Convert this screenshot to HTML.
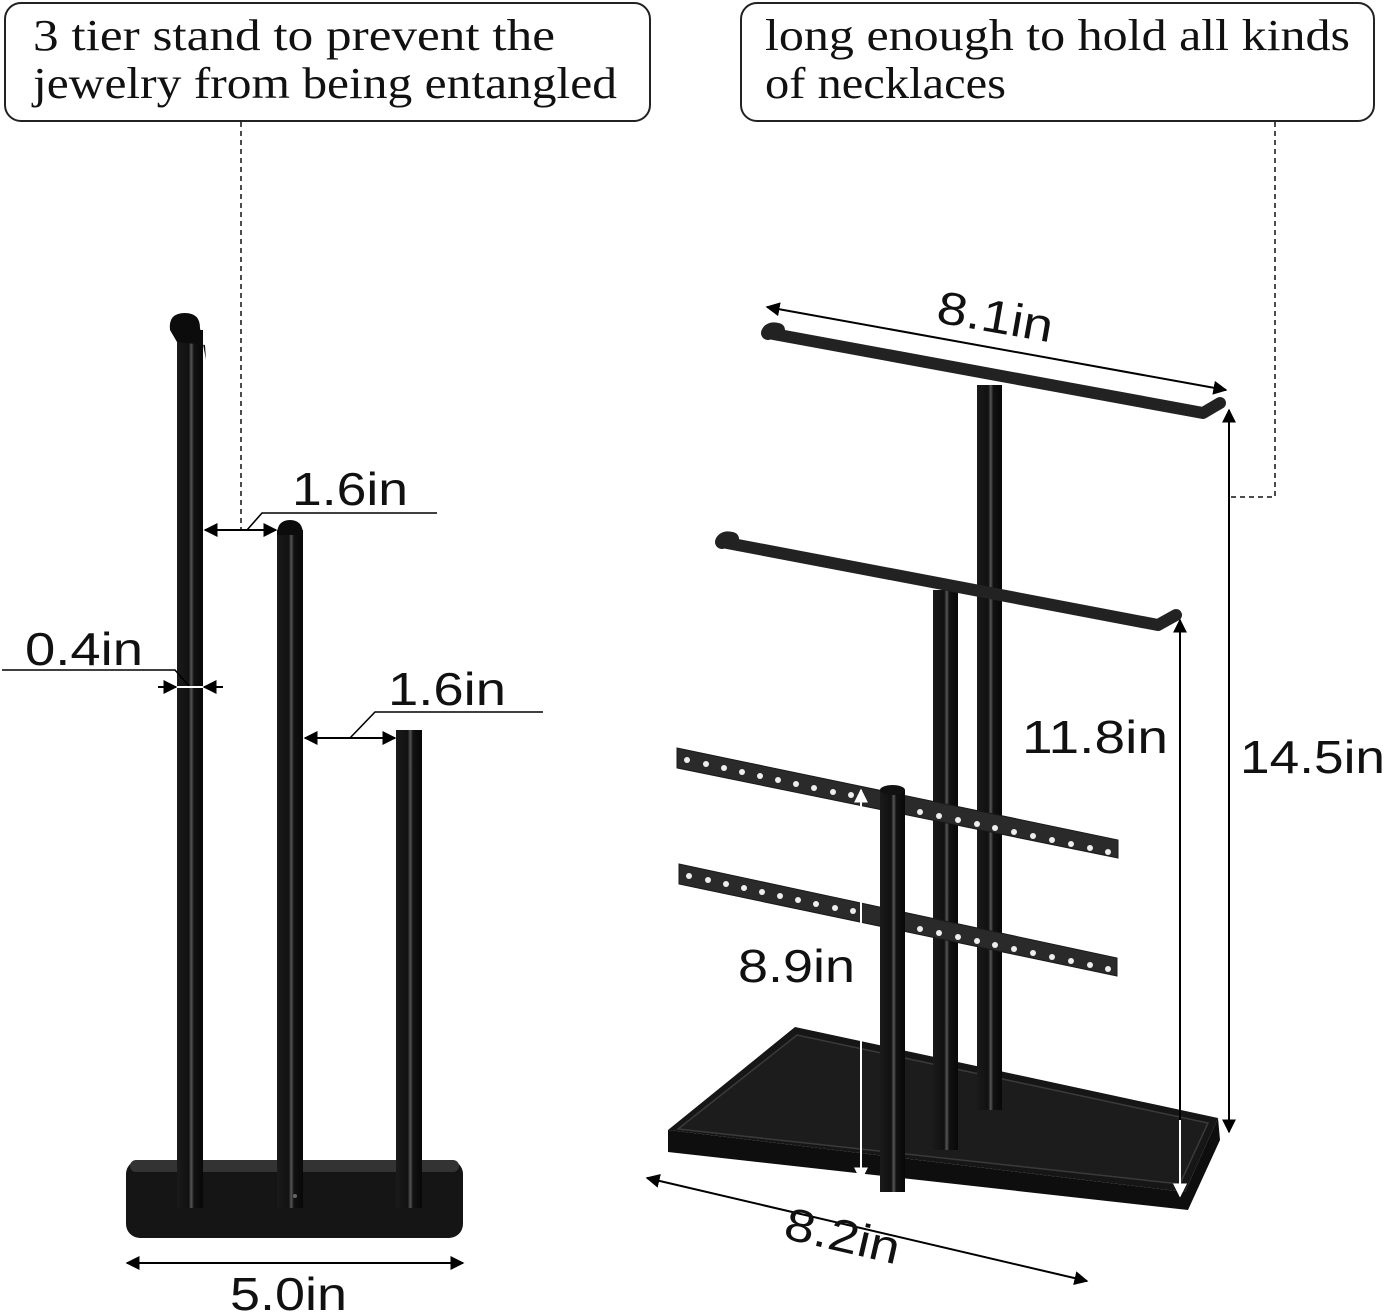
<!DOCTYPE html>
<html><head><meta charset="utf-8"><style>
html,body{margin:0;padding:0;background:#fff}
svg{display:block}
.n{font-family:"Liberation Sans",sans-serif;font-size:46px;fill:#111}
.b{font-family:"Liberation Serif",serif;font-size:44px;fill:#111}
</style></head><body>
<svg width="1389" height="1315" viewBox="0 0 1389 1315" xmlns="http://www.w3.org/2000/svg">
<defs>
<marker id="a" viewBox="0 0 10 10" refX="9" refY="5" markerWidth="7" markerHeight="7" orient="auto-start-reverse"><path d="M0,0L10,5L0,10z" fill="#000"/></marker>
<marker id="w" viewBox="0 0 10 10" refX="9" refY="5" markerWidth="7" markerHeight="7" orient="auto-start-reverse"><path d="M0,0L10,5L0,10z" fill="#fff"/></marker>
<linearGradient id="pg" x1="0" x2="1"><stop offset="0" stop-color="#1a1a1a"/><stop offset=".45" stop-color="#111"/><stop offset=".55" stop-color="#555"/><stop offset=".65" stop-color="#111"/><stop offset="1" stop-color="#080808"/></linearGradient>
</defs>
<!-- boxes -->
<rect x="5" y="3" width="645" height="118" rx="16" fill="#fff" stroke="#222" stroke-width="2"/>
<text class="b" x="33" y="50" textLength="522" lengthAdjust="spacingAndGlyphs">3 tier stand to prevent the</text>
<text class="b" x="33" y="98" textLength="584" lengthAdjust="spacingAndGlyphs">jewelry from being entangled</text>
<rect x="741" y="3" width="633" height="118" rx="16" fill="#fff" stroke="#222" stroke-width="2"/>
<text class="b" x="765" y="50" textLength="585" lengthAdjust="spacingAndGlyphs">long enough to hold all kinds</text>
<text class="b" x="765" y="98" textLength="241" lengthAdjust="spacingAndGlyphs">of necklaces</text>
<path d="M241,122V530" stroke="#111" stroke-width="1.5" stroke-dasharray="5,4" fill="none"/>
<path d="M1275,122V497H1230" stroke="#111" stroke-width="1.5" stroke-dasharray="5,4" fill="none"/>

<!-- left stand -->
<rect x="126" y="1160" width="337" height="78" rx="14" fill="#151515"/>
<rect x="130" y="1160" width="329" height="12" rx="6" fill="#333"/>
<rect x="177" y="330" width="26" height="878" fill="url(#pg)"/>
<path d="M170,330 Q168,313 185,313 Q200,313 200,328 L206,360 L205,345 L177,342Z" fill="#0c0c0c"/>
<rect x="277" y="530" width="26" height="678" fill="url(#pg)"/>
<path d="M277,535 Q277,520 290,520 Q303,520 303,535Z" fill="#0c0c0c"/>
<rect x="396" y="730" width="26" height="478" fill="url(#pg)"/>
<circle cx="295" cy="1196" r="2" fill="#666"/>

<!-- left dims -->
<line x1="205" y1="530" x2="276" y2="530" stroke="#000" stroke-width="2" marker-start="url(#a)" marker-end="url(#a)"/>
<path d="M247,530L262,513H437" stroke="#000" stroke-width="1.6" fill="none"/>
<text class="n" x="292" y="505" textLength="116" lengthAdjust="spacingAndGlyphs">1.6in</text>
<path d="M2,670H175L190,687" stroke="#000" stroke-width="1.6" fill="none"/>
<line x1="177" y1="687" x2="203" y2="687" stroke="#fff" stroke-width="2"/>
<line x1="158" y1="687" x2="176" y2="687" stroke="#000" stroke-width="2" marker-end="url(#a)"/>
<line x1="223" y1="687" x2="204" y2="687" stroke="#000" stroke-width="2" marker-end="url(#a)"/>
<text class="n" x="25" y="665" textLength="118" lengthAdjust="spacingAndGlyphs">0.4in</text>
<line x1="305" y1="738" x2="395" y2="738" stroke="#000" stroke-width="2" marker-start="url(#a)" marker-end="url(#a)"/>
<path d="M350,738L375,712H543" stroke="#000" stroke-width="1.6" fill="none"/>
<text class="n" x="388" y="705" textLength="118" lengthAdjust="spacingAndGlyphs">1.6in</text>
<line x1="127" y1="1263" x2="463" y2="1263" stroke="#000" stroke-width="2" marker-start="url(#a)" marker-end="url(#a)"/>
<text class="n" x="230" y="1310" textLength="117" lengthAdjust="spacingAndGlyphs">5.0in</text>

<!-- right stand -->
<polygon points="668,1130 795,1027 1218,1118 1185,1192" fill="#161616"/>
<polygon points="668,1130 1185,1192 1218,1118 1220,1140 1188,1210 668,1152" fill="#0e0e0e"/>
<polygon points="678,1129 797,1035 1208,1123 1180,1184" fill="#1c1c1c" stroke="#3a3a3a" stroke-width="1.5"/>
<rect x="977" y="385" width="25" height="725" fill="url(#pg)"/>
<rect x="933" y="590" width="25" height="560" fill="url(#pg)"/>
<path d="M768,333 L1203,413 L1220,403" stroke="#222" stroke-width="12" fill="none" stroke-linecap="round" stroke-linejoin="round"/>
<path d="M768,333 Q770,328 778,330" stroke="#222" stroke-width="14" stroke-linecap="round" fill="none"/>
<path d="M722,542 L1158,625 L1176,615" stroke="#222" stroke-width="12" fill="none" stroke-linecap="round" stroke-linejoin="round"/>
<path d="M722,542 Q724,537 732,539" stroke="#222" stroke-width="14" stroke-linecap="round" fill="none"/>
<g fill="#2a2a2a" stroke="#1a1a1a">
<polygon points="677,748 1118,840 1118,858 677,768"/>
<polygon points="679,864 1117,958 1117,976 679,884"/>
</g>
<g fill="#eee">
<circle cx="687" cy="760" r="3"/><circle cx="706" cy="764" r="3"/><circle cx="724" cy="768" r="3"/><circle cx="742" cy="772" r="3"/><circle cx="760" cy="776" r="3"/><circle cx="778" cy="780" r="3"/><circle cx="796" cy="784" r="3"/><circle cx="814" cy="788" r="3"/><circle cx="833" cy="792" r="3"/><circle cx="851" cy="795" r="3"/>
<circle cx="920" cy="812" r="3"/><circle cx="939" cy="816" r="3"/><circle cx="958" cy="820" r="3"/><circle cx="977" cy="824" r="3"/><circle cx="995" cy="828" r="3"/><circle cx="1014" cy="832" r="3"/><circle cx="1033" cy="836" r="3"/><circle cx="1052" cy="840" r="3"/><circle cx="1071" cy="844" r="3"/><circle cx="1090" cy="848" r="3"/><circle cx="1108" cy="852" r="3"/>
<circle cx="689" cy="876" r="3"/><circle cx="708" cy="880" r="3"/><circle cx="726" cy="884" r="3"/><circle cx="744" cy="888" r="3"/><circle cx="762" cy="892" r="3"/><circle cx="780" cy="896" r="3"/><circle cx="798" cy="900" r="3"/><circle cx="816" cy="904" r="3"/><circle cx="835" cy="908" r="3"/><circle cx="853" cy="911" r="3"/>
<circle cx="920" cy="929" r="3"/><circle cx="939" cy="933" r="3"/><circle cx="958" cy="937" r="3"/><circle cx="977" cy="941" r="3"/><circle cx="995" cy="945" r="3"/><circle cx="1014" cy="949" r="3"/><circle cx="1033" cy="953" r="3"/><circle cx="1052" cy="957" r="3"/><circle cx="1071" cy="961" r="3"/><circle cx="1090" cy="965" r="3"/><circle cx="1108" cy="969" r="3"/>
</g>
<rect x="880" y="790" width="25" height="402" fill="url(#pg)"/>
<ellipse cx="892.5" cy="790" rx="12.5" ry="5" fill="#111"/>

<!-- right dims -->
<line x1="767" y1="307" x2="1226" y2="390" stroke="#000" stroke-width="2" marker-start="url(#a)" marker-end="url(#a)"/>
<text class="n" x="935" y="322" transform="rotate(10 935 322)" textLength="117" lengthAdjust="spacingAndGlyphs">8.1in</text>
<line x1="1229" y1="410" x2="1229" y2="1132" stroke="#000" stroke-width="2" marker-start="url(#a)" marker-end="url(#a)"/>
<text class="n" x="1240" y="773" textLength="145" lengthAdjust="spacingAndGlyphs">14.5in</text>
<line x1="1180" y1="620" x2="1180" y2="1196" stroke="#000" stroke-width="2" marker-start="url(#a)" marker-end="url(#w)"/>
<line x1="1180" y1="1120" x2="1180" y2="1196" stroke="#fff" stroke-width="2" marker-end="url(#w)"/>
<text class="n" x="1022" y="753" textLength="146" lengthAdjust="spacingAndGlyphs">11.8in</text>
<line x1="861" y1="790" x2="861" y2="1180" stroke="#fff" stroke-width="2" marker-start="url(#w)" marker-end="url(#w)"/>
<text class="n" x="738" y="982" textLength="117" lengthAdjust="spacingAndGlyphs">8.9in</text>
<line x1="647" y1="1178" x2="1087" y2="1281" stroke="#000" stroke-width="2" marker-start="url(#a)" marker-end="url(#a)"/>
<text class="n" x="782" y="1238" transform="rotate(13 782 1238)" textLength="117" lengthAdjust="spacingAndGlyphs">8.2in</text>
</svg>
</body></html>
